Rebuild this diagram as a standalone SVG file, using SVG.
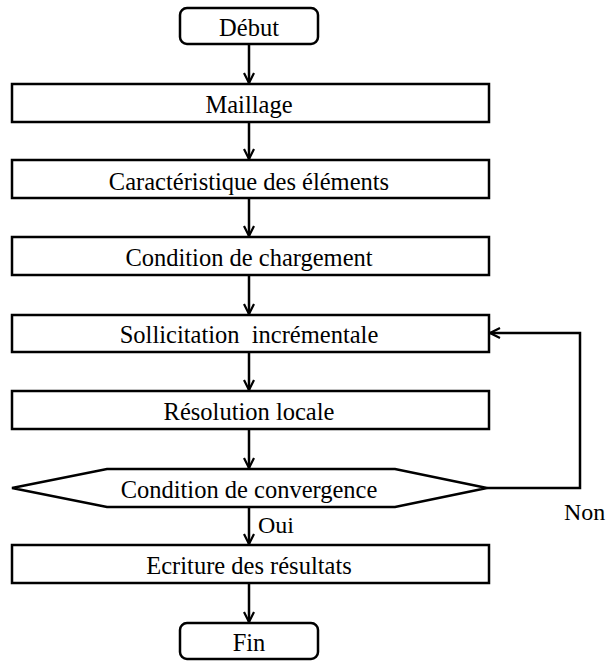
<svg xmlns="http://www.w3.org/2000/svg" width="607" height="663" viewBox="0 0 607 663">
<defs>
<marker id="arr" viewBox="0 0 12 12" refX="11" refY="6" markerWidth="12" markerHeight="12" markerUnits="userSpaceOnUse" orient="auto">
<path d="M1,1 L11,6 L1,11" fill="none" stroke="#000" stroke-width="2.2"/>
</marker>
<style>
.box{fill:#fff;stroke:#000;stroke-width:2.5}
.t{font-family:"Liberation Serif","Times New Roman",serif;font-size:24.5px;fill:#000;text-anchor:middle;dominant-baseline:central}
.l{font-family:"Liberation Serif","Times New Roman",serif;font-size:24px;fill:#000}
.c{fill:none;stroke:#000;stroke-width:2.5}
</style>
</defs>
<rect width="607" height="663" fill="#fff"/>
<g id="connectors">
<line class="c" x1="249" y1="44" x2="249" y2="83" marker-end="url(#arr)"/>
<line class="c" x1="249" y1="122" x2="249" y2="159" marker-end="url(#arr)"/>
<line class="c" x1="249" y1="198" x2="249" y2="236" marker-end="url(#arr)"/>
<line class="c" x1="249" y1="275" x2="249" y2="314" marker-end="url(#arr)"/>
<line class="c" x1="249" y1="352" x2="249" y2="390" marker-end="url(#arr)"/>
<line class="c" x1="249" y1="429" x2="249" y2="468" marker-end="url(#arr)"/>
<line class="c" x1="249" y1="507" x2="249" y2="544" marker-end="url(#arr)"/>
<line class="c" x1="249" y1="583" x2="249" y2="622" marker-end="url(#arr)"/>
<polyline class="c" points="487,488 580,488 580,333 490,333" marker-end="url(#arr)"/>
<text class="l" x="258" y="533">Oui</text>
<text class="l" x="564" y="520">Non</text>
</g>
<g id="debut"><rect class="box" x="180" y="8" width="138" height="36" rx="7"/><text class="t" x="249" y="27">Début</text></g>
<g id="maillage"><rect class="box" x="12" y="84" width="477" height="38"/><text class="t" x="249" y="104">Maillage</text></g>
<g id="caracteristique"><rect class="box" x="12" y="160" width="477" height="38"/><text class="t" x="249" y="181">Caractéristique des éléments</text></g>
<g id="chargement"><rect class="box" x="12" y="237" width="477" height="38"/><text class="t" x="249" y="257">Condition de chargement</text></g>
<g id="sollicitation"><rect class="box" x="12" y="315" width="477" height="37"/><text class="t" x="249" y="334" style="white-space:pre">Sollicitation  incrémentale</text></g>
<g id="resolution"><rect class="box" x="12" y="391" width="477" height="38"/><text class="t" x="249" y="411">Résolution locale</text></g>
<g id="convergence"><polygon class="box" points="12,488 107,469 395,469 487,488 395,507 107,507"/><text class="t" x="249" y="489">Condition de convergence</text></g>
<g id="ecriture"><rect class="box" x="12" y="545" width="477" height="38"/><text class="t" x="249" y="565">Ecriture des résultats</text></g>
<g id="fin"><rect class="box" x="180" y="623" width="138" height="36" rx="7"/><text class="t" x="249" y="642">Fin</text></g>
</svg>
